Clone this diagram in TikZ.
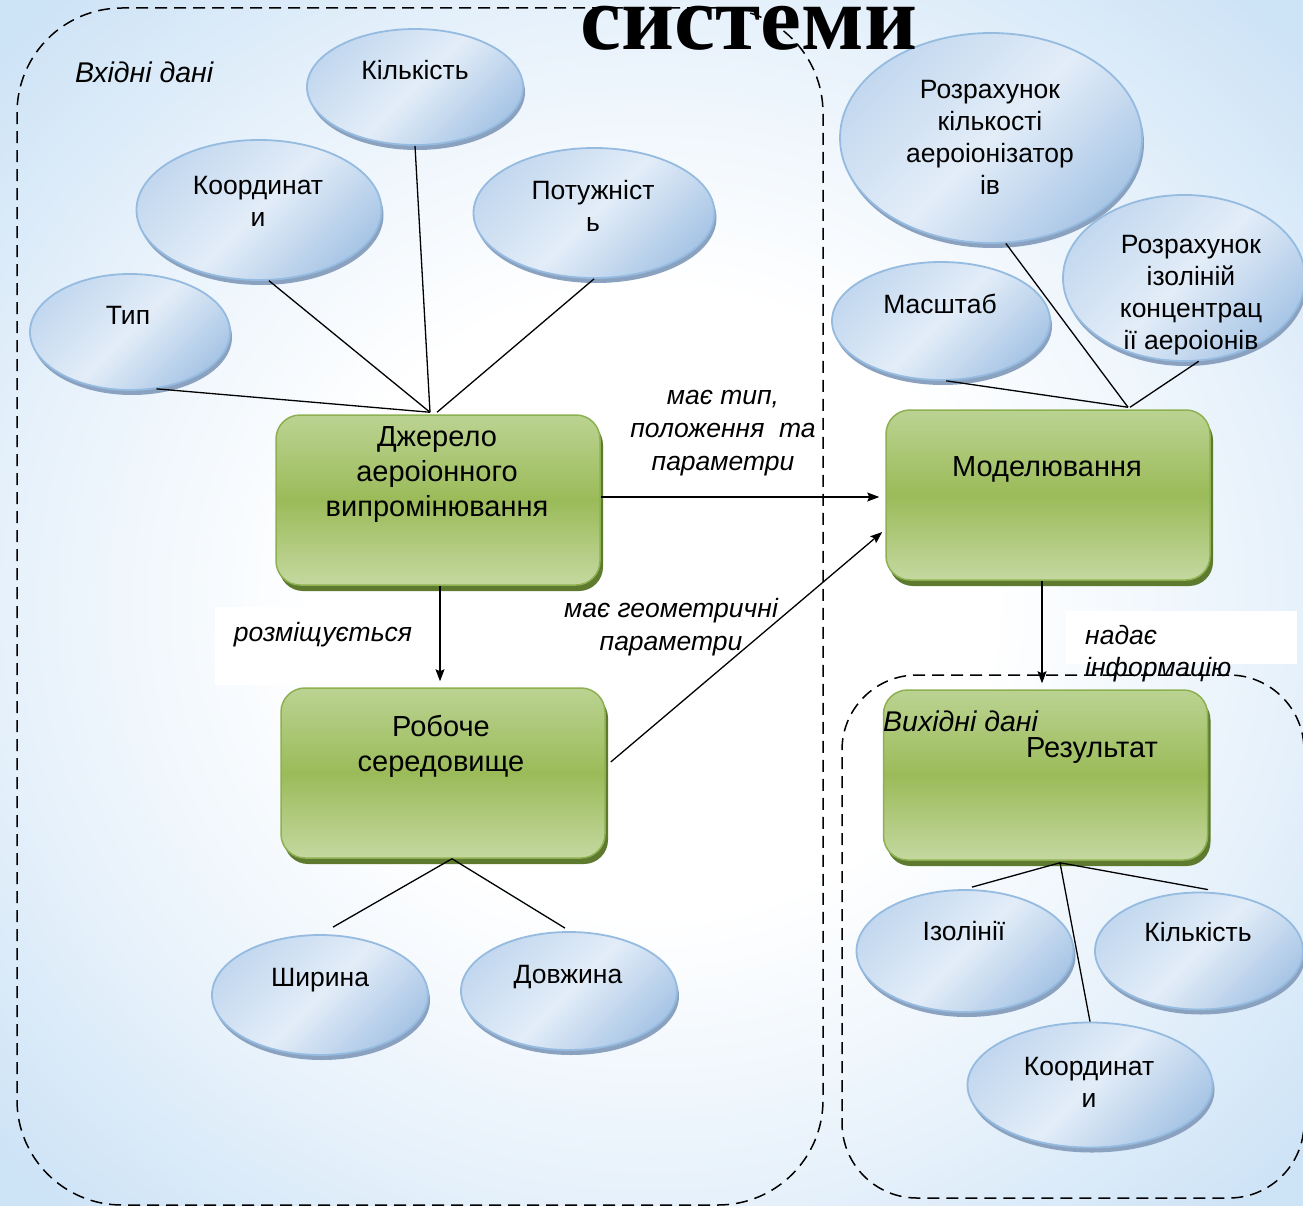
\documentclass[tikz,border=0pt]{standalone}
\usepackage{fontspec}
\setmainfont{Liberation Sans}
\newfontfamily\titlefont{Liberation Serif}
\usetikzlibrary{shapes.geometric,shadows,arrows.meta,calc}
\definecolor{bgblue}{HTML}{CDE3F6}
\definecolor{bgmid}{HTML}{E8F2FB}
\definecolor{bubtop}{HTML}{C3D8EF}
\definecolor{bubmid}{HTML}{E3EDF8}
\definecolor{bubbot}{HTML}{A9C6E6}
\definecolor{bubedge}{HTML}{95BBE0}
\definecolor{bubshadow}{HTML}{8AA2BF}
\definecolor{gtop}{HTML}{BBD392}
\definecolor{gmid}{HTML}{9BBB59}
\definecolor{gbot}{HTML}{C4D8A0}
\definecolor{gedge}{HTML}{8DB050}
\definecolor{gshadow}{HTML}{5E7A2E}
\pgfdeclareradialshading{bgshade}{\pgfpoint{0bp}{0bp}}{color(0bp)=(white); color(13bp)=(white); color(24bp)=(bgmid); color(34bp)=(bgblue); color(50bp)=(bgblue)}
\begin{document}
\begin{tikzpicture}[x=1pt,y=-1pt,
  bubble/.style={ellipse, draw=bubedge, line width=1.8pt, inner sep=0pt,
    top color=bubtop, bottom color=bubbot, middle color=bubmid, shading angle=45,
    drop shadow={shadow xshift=2pt, shadow yshift=-5pt, fill=bubshadow, opacity=1}},
  gbox/.style={rectangle, rounded corners=24pt, draw=gedge, line width=1.5pt, inner sep=0pt,
    top color=gtop, bottom color=gbot, middle color=gmid,
    minimum width=324pt, minimum height=170pt,
    drop shadow={shadow xshift=3pt, shadow yshift=-6pt, fill=gshadow, opacity=1}},
  dashbox/.style={rectangle, draw=black, line width=1.5pt, dash pattern=on 12pt off 7pt, inner sep=0pt},
  conn/.style={draw=black, line width=1.3pt},
  arr/.style={draw=black, line width=1.3pt, -{Stealth[length=12pt,width=9pt,inset=2pt]}},
  etxt/.style={font=\fontsize{26.5}{32}\selectfont, align=center, anchor=north, inner sep=0pt, execute at begin node=\strut},
  btxt/.style={font=\fontsize{29}{35}\selectfont, align=center, anchor=north, inner sep=0pt, execute at begin node=\strut},
  ltxt/.style={font=\fontsize{26.5}{33}\selectfont\itshape, align=center, anchor=north, inner sep=0pt, execute at begin node=\strut},
  ]
\useasboundingbox (0,0) rectangle (1303,1206);
\shade[shading=bgshade] (0,0) rectangle (1303,1206);

% white label backgrounds
\fill[white] (608,370) rectangle (838,506);
\fill[white] (215,607) rectangle (457,685);
\fill[white] (533,581) rectangle (810,685);
\fill[white] (1066,611) rectangle (1297,664);

% dashed containers
\node[dashbox, rounded corners=105pt, minimum width=806pt, minimum height=1197pt] (inbox) at (420,606.5) {};
\node[dashbox, rounded corners=75pt, minimum width=462pt, minimum height=523pt] (outbox) at (1073,936.5) {};

% ellipses
\node[bubble, minimum width=216pt, minimum height=116pt] (kil1) at (415,87) {};
\node[bubble, minimum width=245pt, minimum height=140pt] (koor1) at (259,210) {};
\node[bubble, minimum width=241pt, minimum height=130pt] (pot) at (594,213) {};
\node[bubble, minimum width=200pt, minimum height=116pt] (typ) at (130,332) {};
\node[bubble, minimum width=216pt, minimum height=120pt] (shyr) at (320,995) {};
\node[bubble, minimum width=216pt, minimum height=118pt] (dovzh) at (569,991) {};
\node[bubble, minimum width=302pt, minimum height=210pt] (rozkil) at (991,138) {};
\node[bubble, minimum width=218pt, minimum height=118pt] (masht) at (941,321) {};
\node[bubble, minimum width=242pt, minimum height=166pt] (rozizo) at (1184,278) {};
\node[bubble, minimum width=217pt, minimum height=122pt] (izol) at (965,951) {};
\node[bubble, minimum width=208pt, minimum height=117pt] (kil2) at (1199,951) {};
\node[bubble, minimum width=245pt, minimum height=125pt] (koor2) at (1090,1085) {};

% green boxes
\node[gbox] (dz) at (438,500) {};
\node[gbox] (mod) at (1048,495) {};
\node[gbox] (rob) at (443,773) {};
\node[gbox] (res) at (1045.5,775) {};

% connectors
\draw[conn] (typ.-65) -- ([xshift=-8pt,yshift=2pt]dz.north);
\draw[conn] (koor1.-82) -- ([xshift=-8pt,yshift=2pt]dz.north);
\draw[conn] (kil1.south) -- ([xshift=-8pt,yshift=2pt]dz.north);
\draw[conn] (pot.south) -- ([xshift=-1pt,yshift=2pt]dz.north);
\draw[conn] ([xshift=9pt]rob.south) -- ([xshift=13pt,yshift=7pt]shyr.north);
\draw[conn] ([xshift=9pt]rob.south) -- ([xshift=-4pt,yshift=3pt]dovzh.north);
\draw[conn] (masht.-85) -- ([xshift=80pt,yshift=2pt]mod.north);
\draw[conn] (rozkil.-82) -- ([xshift=80pt,yshift=2pt]mod.north);
\draw[conn] (rozizo.-80) -- ([xshift=82pt,yshift=2pt]mod.north);
\draw[conn] ([xshift=14.5pt,yshift=-2pt]res.south) -- ([xshift=7pt,yshift=2pt]izol.north);
\draw[conn] ([xshift=14.5pt,yshift=-2pt]res.south) -- ([xshift=9pt,yshift=2pt]kil2.north);
\draw[conn] ([xshift=14.5pt,yshift=-2pt]res.south) -- (koor2.north);

\draw[arr, shorten >=6pt] ([yshift=3pt]dz.east) -- ([yshift=3pt]dz.east -| mod.west);
\draw[arr, shorten >=6pt] ([xshift=2pt]dz.south) -- ([xshift=2pt]dz.south |- rob.north);
\draw[arr] ([xshift=5pt,yshift=11pt]rob.east) -- ([xshift=-3pt,yshift=-37pt]mod.west);
\draw[arr, shorten >=6pt] ([xshift=-6pt]mod.south) -- ([xshift=-6pt]mod.south |- res.north);

% box texts
\node[btxt] (t-dz) at (437,425.9) {Джерело\\аероіонного\\випромінювання};
\node[btxt] (t-mod) at (1047,451.9) {Моделювання};
\node[btxt] (t-rob) at (441,715.5) {Робоче\\середовище};
\node[btxt] (t-res) at (1092,733) {Результат};

% ellipse texts
\node[etxt] (t-kil1) at (415,56.6) {Кількість};
\node[etxt] (t-koor1) at (258,175.6) {Координат\\и};
\node[etxt] (t-pot) at (593,179.6) {Потужніст\\ь};
\node[etxt] (t-typ) at (128,301.6) {Тип};
\node[etxt] (t-shyr) at (320,964.3) {Ширина};
\node[etxt] (t-dovzh) at (568,960.6) {Довжина};
\node[etxt] (t-rozkil) at (990,80.3) {Розрахунок\\кількості\\аероіонізатор\\ів};
\node[etxt] (t-masht) at (940,290.6) {Масштаб};
\node[etxt] (t-rozizo) at (1191,235.3) {Розрахунок\\ізоліній\\концентрац\\ії аероіонів};
\node[etxt] (t-izol) at (964,918.3) {Ізолінії};
\node[etxt] (t-kil2) at (1198,919.3) {Кількість};
\node[etxt] (t-koor2) at (1089,1056.6) {Координат\\и};

% labels
\node[ltxt] (l-typ) at (723,389.9) {має тип,\\положення\ \ та\\параметри};
\node[ltxt] (l-roz) at (323,617.9) {розміщується};
\node[ltxt] (l-geo) at (671,597.9) {має геометричні\\параметри};
\node[ltxt, align=left, anchor=north west, font=\fontsize{26.5}{32}\selectfont\itshape] (l-nad) at (1085,624.6) {надає\\інформацію};
\node[anchor=base west, inner sep=0pt, font=\fontsize{28.5}{34}\selectfont\itshape] (l-in) at (75,83) {Вхідні дані};
\node[anchor=base west, inner sep=0pt, font=\fontsize{28.5}{34}\selectfont\itshape] (l-out) at (883,731.7) {Вихідні дані};

% title
\node[anchor=base, inner sep=0pt, font=\titlefont\bfseries\fontsize{92}{100}\selectfont] (title) at (749,50) {системи};
\end{tikzpicture}
\end{document}
